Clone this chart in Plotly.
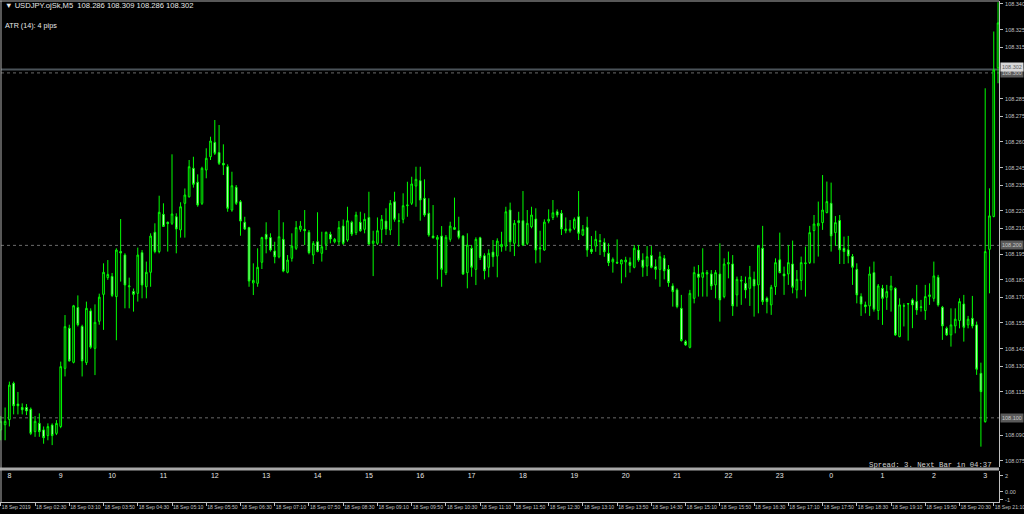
import pandas as pd
import plotly.graph_objects as go

# ---------------- data (USDJPY M5, 18 Sep 2019, server time) ----------------
first_bar = "2019-09-18 01:50"

opens = [
    108.0930, 108.0960, 108.0990, 108.1200, 108.1080, 108.1060, 108.1060, 108.1050, 108.0920, 108.0968,
    108.0930, 108.0897, 108.0958, 108.0910, 108.0950, 108.1287, 108.1520, 108.1322, 108.1640, 108.1530,
    108.1320, 108.1620, 108.1403, 108.1560, 108.1716, 108.1813, 108.1820, 108.1703, 108.1964, 108.1944,
    108.1760, 108.1732, 108.1722, 108.1958, 108.1760, 108.1844, 108.2076, 108.1964, 108.2180, 108.2134,
    108.2128, 108.2166, 108.2090, 108.2244, 108.2282, 108.2447, 108.2366, 108.2244, 108.2437, 108.2514,
    108.2597, 108.2538, 108.2476, 108.2456, 108.2205, 108.2337, 108.2253, 108.2134, 108.2103, 108.1782,
    108.1780, 108.1902, 108.2064, 108.2045, 108.1967, 108.1934, 108.2035, 108.1844, 108.1925, 108.1983,
    108.2093, 108.2093, 108.2076, 108.1944, 108.2021, 108.1954, 108.2006, 108.2064, 108.2021, 108.2021,
    108.2112, 108.2031, 108.2134, 108.2074, 108.2134, 108.2093, 108.2162, 108.2012, 108.2012, 108.2093,
    108.2141, 108.2089, 108.2253, 108.2140, 108.2151, 108.2230, 108.2244, 108.2344, 108.2375, 108.2273,
    108.2186, 108.2054, 108.2035, 108.2054, 108.1842, 108.2035, 108.2103, 108.2085, 108.2054, 108.1842,
    108.1983, 108.1861, 108.2044, 108.1940, 108.1873, 108.1961, 108.1938, 108.1992, 108.1996, 108.2205,
    108.2012, 108.2143, 108.2143, 108.2012, 108.2108, 108.2153, 108.1980, 108.1973, 108.2141, 108.2162,
    108.2195, 108.2186, 108.2085, 108.2085, 108.2099, 108.2166, 108.2060, 108.2105, 108.1977, 108.1996,
    108.2027, 108.2016, 108.1954, 108.1904, 108.1902, 108.1892, 108.1904, 108.1902, 108.1873, 108.1973,
    108.1915, 108.1880, 108.1942, 108.1876, 108.1861, 108.1925, 108.1861, 108.1765, 108.1742, 108.1635,
    108.1442, 108.1409, 108.1693, 108.1834, 108.1815, 108.1834, 108.1834, 108.1771, 108.1834, 108.1703,
    108.1892, 108.1892, 108.1713, 108.1798, 108.1780, 108.1751, 108.1803, 108.1771, 108.1983, 108.1693,
    108.1655, 108.1761, 108.1916, 108.1834, 108.1834, 108.1892, 108.1742, 108.1796, 108.1894, 108.1900,
    108.2086, 108.2113, 108.2132, 108.2190, 108.2244, 108.2074, 108.2144, 108.1983, 108.1974, 108.1935,
    108.1861, 108.1703, 108.1655, 108.1649, 108.1842, 108.1622, 108.1751, 108.1699, 108.1742, 108.1751,
    108.1471, 108.1650, 108.1660, 108.1684, 108.1674, 108.1640, 108.1622, 108.1703, 108.1693, 108.1815,
    108.1641, 108.1519, 108.1481, 108.1533, 108.1564, 108.1660, 108.1539, 108.1577, 108.1539, 108.1258,
    108.0978, 108.1977, 108.2167, 108.3030,
]
highs = [
    108.1010, 108.1060, 108.1210, 108.1210, 108.1150, 108.1084, 108.1080, 108.1060, 108.1010, 108.1026,
    108.0950, 108.0968, 108.0968, 108.0987, 108.1326, 108.1596, 108.1540, 108.1655, 108.1710, 108.1540,
    108.1674, 108.1635, 108.1658, 108.1720, 108.1896, 108.1915, 108.1840, 108.1983, 108.2153, 108.1954,
    108.1813, 108.1750, 108.1987, 108.1973, 108.1906, 108.2070, 108.2128, 108.2288, 108.2244, 108.2138,
    108.2528, 108.2186, 108.2250, 108.2330, 108.2495, 108.2514, 108.2412, 108.2456, 108.2563, 108.2630,
    108.2727, 108.2698, 108.2586, 108.2470, 108.2427, 108.2350, 108.2263, 108.2166, 108.2108, 108.1896,
    108.1983, 108.2050, 108.2134, 108.2070, 108.2021, 108.2205, 108.2134, 108.1944, 108.2070, 108.2141,
    108.2141, 108.2205, 108.2089, 108.2025, 108.2192, 108.2079, 108.2080, 108.2079, 108.2043, 108.2141,
    108.2150, 108.2224, 108.2143, 108.2195, 108.2195, 108.2186, 108.2311, 108.2085, 108.2162, 108.2176,
    108.2215, 108.2263, 108.2311, 108.2186, 108.2302, 108.2369, 108.2398, 108.2456, 108.2456, 108.2383,
    108.2273, 108.2234, 108.2060, 108.2112, 108.2060, 108.2137, 108.2277, 108.2166, 108.2060, 108.2070,
    108.2002, 108.2047, 108.2050, 108.1954, 108.1977, 108.2031, 108.2041, 108.2079, 108.2224, 108.2248,
    108.2147, 108.2195, 108.2315, 108.2205, 108.2224, 108.2215, 108.2085, 108.2151, 108.2209, 108.2263,
    108.2209, 108.2205, 108.2162, 108.2147, 108.2162, 108.2315, 108.2118, 108.2166, 108.2054, 108.2085,
    108.2066, 108.2041, 108.2012, 108.1930, 108.2035, 108.1919, 108.1934, 108.1930, 108.2002, 108.2002,
    108.1954, 108.1996, 108.1996, 108.1919, 108.1963, 108.1944, 108.1886, 108.1780, 108.1751, 108.1713,
    108.1452, 108.1742, 108.1877, 108.1886, 108.1983, 108.1857, 108.1857, 108.1857, 108.2012, 108.1925,
    108.1964, 108.1944, 108.1819, 108.1823, 108.1819, 108.1881, 108.1848, 108.2002, 108.2113, 108.1703,
    108.1771, 108.1925, 108.2074, 108.1877, 108.2002, 108.2028, 108.1857, 108.1935, 108.1993, 108.2113,
    108.2176, 108.2254, 108.2408, 108.2370, 108.2364, 108.2170, 108.2176, 108.2051, 108.2055, 108.1950,
    108.1896, 108.1722, 108.1674, 108.1877, 108.1906, 108.1776, 108.1771, 108.1771, 108.1823, 108.1757,
    108.1693, 108.1664, 108.1666, 108.1693, 108.1771, 108.1684, 108.1771, 108.1780, 108.1906, 108.1829,
    108.1649, 108.1529, 108.1635, 108.1635, 108.1693, 108.1713, 108.1591, 108.1707, 108.1558, 108.1320,
    108.2911, 108.2331, 108.3240, 108.3410,
]
lows = [
    108.0870, 108.0870, 108.0950, 108.1020, 108.1020, 108.1020, 108.1016, 108.0900, 108.0890, 108.0890,
    108.0850, 108.0870, 108.0842, 108.0900, 108.0940, 108.1240, 108.1326, 108.1316, 108.1530, 108.1240,
    108.1306, 108.1400, 108.1248, 108.1540, 108.1510, 108.1800, 108.1700, 108.1450, 108.1790, 108.1635,
    108.1635, 108.1616, 108.1674, 108.1693, 108.1693, 108.1760, 108.1954, 108.1954, 108.2108, 108.1964,
    108.2118, 108.1954, 108.2045, 108.2045, 108.2277, 108.2335, 108.2224, 108.2234, 108.2389, 108.2495,
    108.2524, 108.2466, 108.2408, 108.2195, 108.2195, 108.2234, 108.2056, 108.2089, 108.1760, 108.1712,
    108.1760, 108.1863, 108.1954, 108.1964, 108.1896, 108.1925, 108.1844, 108.1838, 108.1906, 108.1973,
    108.2079, 108.2002, 108.1948, 108.1892, 108.1960, 108.1906, 108.1973, 108.2012, 108.2012, 108.2002,
    108.2002, 108.2021, 108.2054, 108.2060, 108.2079, 108.2070, 108.2002, 108.1822, 108.2002, 108.2012,
    108.2060, 108.2060, 108.2137, 108.1996, 108.2128, 108.2166, 108.2234, 108.2224, 108.2143, 108.2166,
    108.2050, 108.2040, 108.1803, 108.1760, 108.1828, 108.2021, 108.2089, 108.2035, 108.1828, 108.1751,
    108.1818, 108.1770, 108.1915, 108.1803, 108.1815, 108.1876, 108.1815, 108.1963, 108.1969, 108.1963,
    108.1938, 108.1992, 108.1996, 108.2002, 108.2099, 108.1896, 108.1900, 108.1969, 108.2128, 108.2147,
    108.2162, 108.2060, 108.2070, 108.2074, 108.2089, 108.2031, 108.2054, 108.1934, 108.1950, 108.1963,
    108.1944, 108.1934, 108.1880, 108.1842, 108.1892, 108.1780, 108.1815, 108.1842, 108.1867, 108.1905,
    108.1818, 108.1822, 108.1867, 108.1803, 108.1760, 108.1803, 108.1760, 108.1645, 108.1635, 108.1442,
    108.1417, 108.1403, 108.1664, 108.1703, 108.1703, 108.1703, 108.1742, 108.1693, 108.1558, 108.1693,
    108.1809, 108.1591, 108.1645, 108.1655, 108.1693, 108.1649, 108.1587, 108.1606, 108.1655, 108.1606,
    108.1597, 108.1713, 108.1838, 108.1713, 108.1771, 108.1722, 108.1693, 108.1742, 108.1703, 108.1892,
    108.1896, 108.1935, 108.2090, 108.2186, 108.1964, 108.1997, 108.1892, 108.1892, 108.1896, 108.1771,
    108.1664, 108.1591, 108.1606, 108.1591, 108.1616, 108.1568, 108.1539, 108.1626, 108.1616, 108.1475,
    108.1467, 108.1530, 108.1448, 108.1520, 108.1597, 108.1616, 108.1568, 108.1655, 108.1674, 108.1645,
    108.1452, 108.1475, 108.1413, 108.1490, 108.1519, 108.1442, 108.1519, 108.1519, 108.1249, 108.0833,
    108.0972, 108.1722, 108.2163, 108.2940,
]
closes = [
    108.0980, 108.0980, 108.1190, 108.1070, 108.1070, 108.1047, 108.1040, 108.0910, 108.0980, 108.0920,
    108.0885, 108.0949, 108.0897, 108.0968, 108.1297, 108.1529, 108.1330, 108.1650, 108.1540, 108.1330,
    108.1635, 108.1410, 108.1554, 108.1700, 108.1844, 108.1832, 108.1710, 108.1973, 108.1956, 108.1770,
    108.1765, 108.1716, 108.1944, 108.1770, 108.1844, 108.2054, 108.1964, 108.2192, 108.2110, 108.2126,
    108.2182, 108.2095, 108.2224, 108.2292, 108.2456, 108.2354, 108.2234, 108.2447, 108.2505, 108.2605,
    108.2534, 108.2476, 108.2466, 108.2215, 108.2346, 108.2244, 108.2141, 108.2095, 108.1793, 108.1797,
    108.1873, 108.2045, 108.2037, 108.1973, 108.1934, 108.2050, 108.1851, 108.1915, 108.1996, 108.2103,
    108.2112, 108.2085, 108.1958, 108.2012, 108.1964, 108.1992, 108.2076, 108.2037, 108.2035, 108.2103,
    108.2012, 108.2143, 108.2066, 108.2176, 108.2085, 108.2151, 108.2008, 108.2025, 108.2085, 108.2151,
    108.2095, 108.2244, 108.2151, 108.2142, 108.2230, 108.2234, 108.2356, 108.2383, 108.2263, 108.2176,
    108.2060, 108.2044, 108.2047, 108.1861, 108.2047, 108.2112, 108.2093, 108.2047, 108.1834, 108.2002,
    108.1873, 108.2035, 108.1930, 108.1853, 108.1954, 108.1934, 108.2025, 108.2006, 108.2195, 108.2021,
    108.2128, 108.2132, 108.2002, 108.2128, 108.2176, 108.1973, 108.1984, 108.2135, 108.2151, 108.2189,
    108.2176, 108.2095, 108.2095, 108.2095, 108.2151, 108.2070, 108.2093, 108.1973, 108.1963, 108.2035,
    108.2023, 108.1963, 108.1900, 108.1919, 108.1898, 108.1915, 108.1915, 108.1884, 108.1983, 108.1915,
    108.1873, 108.1934, 108.1873, 108.1861, 108.1934, 108.1853, 108.1784, 108.1732, 108.1645, 108.1448,
    108.1423, 108.1722, 108.1842, 108.1815, 108.1842, 108.1842, 108.1765, 108.1842, 108.1684, 108.1892,
    108.1900, 108.1649, 108.1803, 108.1794, 108.1742, 108.1815, 108.1765, 108.1997, 108.1674, 108.1674,
    108.1757, 108.1900, 108.1842, 108.1823, 108.1900, 108.1757, 108.1803, 108.1900, 108.1898, 108.2074,
    108.2124, 108.2128, 108.2205, 108.2254, 108.2055, 108.2132, 108.1974, 108.1964, 108.1939, 108.1873,
    108.1713, 108.1660, 108.1645, 108.1834, 108.1630, 108.1765, 108.1693, 108.1732, 108.1765, 108.1481,
    108.1655, 108.1648, 108.1662, 108.1655, 108.1626, 108.1643, 108.1703, 108.1713, 108.1823, 108.1655,
    108.1533, 108.1481, 108.1539, 108.1572, 108.1674, 108.1525, 108.1572, 108.1533, 108.1282, 108.1152,
    108.1964, 108.2171, 108.3017, 108.3290,
]

symbol = "USDJPY.ojSk,M5"
header_ohlc = [108.286, 108.309, 108.286, 108.302]
atr_text = "ATR (14): 4 pips"
bid_price = 108.302
level_lines = [108.100, 108.200, 108.300]
spread_text = "Spread: 3. Next Bar in 04:37"

price_ticks = [108.340, 108.325, 108.315, 108.285, 108.275, 108.260, 108.245, 108.235,
               108.220, 108.210, 108.195, 108.180, 108.170, 108.155, 108.140, 108.130,
               108.115, 108.090, 108.075]

time_tick_times = ["01:50", "02:30", "03:10", "03:50", "04:30", "05:10", "05:50", "06:30",
                   "07:10", "07:50", "08:30", "09:10", "09:50", "10:30", "11:10", "11:50",
                   "12:30", "13:10", "13:50", "14:30", "15:10", "15:50", "16:30", "17:10",
                   "17:50", "18:30", "19:10", "19:50", "20:30", "21:10"]
time_tick_labels = ["18 Sep 2019"] + ["18 Sep " + t for t in time_tick_times[1:]]

hour_times = ["02:00", "03:00", "04:00", "05:00", "06:00", "07:00", "08:00", "09:00", "10:00",
              "11:00", "12:00", "13:00", "14:00", "15:00", "16:00", "17:00", "18:00", "19:00",
              "20:00", "21:00"]
hour_labels = ["8", "9", "10", "11", "12", "13", "14", "15", "16", "17", "18", "19", "20",
               "21", "22", "23", "0", "1", "2", "3"]

sub_ticks = [2, 0, -1]
sub_tick_labels = ["2", "0.00", "-1"]

# ---------------- figure ----------------
W, H = 1024, 514
def px(x):
    return x / W
def py(y):
    return 1 - y / H

times = pd.date_range(first_bar, periods=len(opens), freq="5min")
day = "2019-09-18 "

FG = "#c0c0c0"
GREEN = "#00ff00"
AXFONT = dict(size=5.5, color=FG, family="Liberation Sans")

fig = go.Figure()
fig.add_trace(go.Candlestick(
    x=times, open=opens, high=highs, low=lows, close=closes,
    increasing=dict(line=dict(color=GREEN, width=1), fillcolor="black"),
    decreasing=dict(line=dict(color=GREEN, width=1), fillcolor="white"),
    whiskerwidth=0, hoverinfo="skip", showlegend=False,
    xaxis="x", yaxis="y",
))

fig.add_trace(go.Scatter(
    x=[day + t for t in hour_times], y=[2] * len(hour_times), text=hour_labels,
    mode="text", textfont=dict(color="#e6e6e6", size=7, family="Liberation Sans"),
    xaxis="x2", yaxis="y2", hoverinfo="skip", showlegend=False, cliponaxis=False,
))

x_dom = [0, px(999)]
x_range = [day + "01:49:03", day + "21:16:07"]

fig.update_layout(
    width=W, height=H,
    margin=dict(l=0, r=0, t=0, b=0, pad=0),
    paper_bgcolor="black", plot_bgcolor="black",
    template="none",
    showlegend=False,
    boxgap=0.45,
    xaxis=dict(domain=x_dom, range=x_range, anchor="y", showticklabels=False,
               showgrid=False, zeroline=False, showline=False, ticks="",
               rangeslider=dict(visible=False), automargin=False),
    yaxis=dict(domain=[py(467), py(1)], range=[108.0715, 108.3417], side="right",
               anchor="x", tickvals=price_ticks, ticktext=[f"{v:.3f}" for v in price_ticks],
               tickfont=AXFONT, ticklabelstandoff=1,
               ticks="outside", ticklen=3, tickcolor=FG, showline=True, linecolor=FG,
               linewidth=1, showgrid=False, zeroline=False, automargin=False),
    xaxis2=dict(domain=x_dom, range=x_range, anchor="y2", matches="x",
                tickvals=[day + t for t in time_tick_times], ticktext=time_tick_labels,
                ticklabelposition="outside right", tickangle=0, ticklabeloverflow="allow",
                ticks="outside", ticklen=3, tickcolor=FG,
                tickfont=dict(size=5.1, color=FG, family="Liberation Sans"),
                showline=True, linecolor=FG, linewidth=1, showgrid=False, zeroline=False,
                automargin=False),
    yaxis2=dict(domain=[py(502), py(471)], range=[-1.3, 2.6], side="right", anchor="x2",
                tickvals=sub_ticks, ticktext=sub_tick_labels,
                tickfont=AXFONT, ticklabelstandoff=1,
                ticks="outside", ticklen=3, tickcolor=FG, showline=True, linecolor=FG,
                linewidth=1, showgrid=False, zeroline=False, automargin=False),
)

shapes = []
for lv in level_lines:
    shapes.append(dict(type="line", xref="paper", yref="y", x0=px(1), x1=px(999), y0=lv, y1=lv,
                       line=dict(color="#6a6a6a", width=1, dash="dot"), layer="below"))
shapes.append(dict(type="line", xref="paper", yref="y", x0=px(1), x1=px(999), y0=bid_price,
                   y1=bid_price, line=dict(color="#4a5258", width=2), layer="below"))
# window frames / separator
shapes.append(dict(type="line", xref="paper", yref="paper", x0=px(0), x1=px(999), y0=py(469),
                   y1=py(469), line=dict(color="#a8a8a8", width=3)))
shapes.append(dict(type="line", xref="paper", yref="paper", x0=px(1), x1=px(1), y0=py(0.5),
                   y1=py(502), line=dict(color="#b0b0b0", width=1)))
shapes.append(dict(type="line", xref="paper", yref="paper", x0=px(0), x1=px(999), y0=py(1),
                   y1=py(1), line=dict(color="#b0b0b0", width=1)))
fig.update_layout(shapes=shapes)

ann = []
ann.append(dict(xref="paper", yref="paper", x=px(3), y=py(6), xanchor="left", yanchor="middle",
                text="▼ " + symbol + "  " + " ".join(f"{v:.3f}" for v in header_ohlc),
                showarrow=False, font=dict(size=7.6, color="#e8e8e8", family="Liberation Sans")))
ann.append(dict(xref="paper", yref="paper", x=px(3), y=py(25), xanchor="left", yanchor="middle",
                text=atr_text, showarrow=False,
                font=dict(size=7.2, color="#e8e8e8", family="Liberation Sans")))
ann.append(dict(xref="paper", yref="paper", x=px(994), y=py(465), xanchor="right",
                yanchor="middle", text=spread_text, showarrow=False,
                font=dict(size=7.3, color="#d0d0d0", family="Liberation Mono")))
for lv in level_lines:
    ann.append(dict(xref="paper", yref="y", x=px(1000), y=lv, xanchor="left", yanchor="middle",
                    text=f"{lv:.3f}", showarrow=False, bgcolor="#5a5a5a", borderpad=1,
                    font=dict(size=5.5, color="#c8c8c8", family="Liberation Sans")))
ann.append(dict(xref="paper", yref="y", x=px(1000), y=bid_price + 0.0015, xanchor="left",
                yanchor="middle", text=f"{bid_price:.3f}", showarrow=False, bgcolor="#d8d8d8",
                borderpad=1, font=dict(size=5.5, color="#606060", family="Liberation Sans")))
fig.update_layout(annotations=ann)

fig.write_html("out.html", config={"displayModeBar": False},
               post_script="document.body.style.margin='0';document.body.style.padding='0';"
                           "document.body.style.background='black';")
